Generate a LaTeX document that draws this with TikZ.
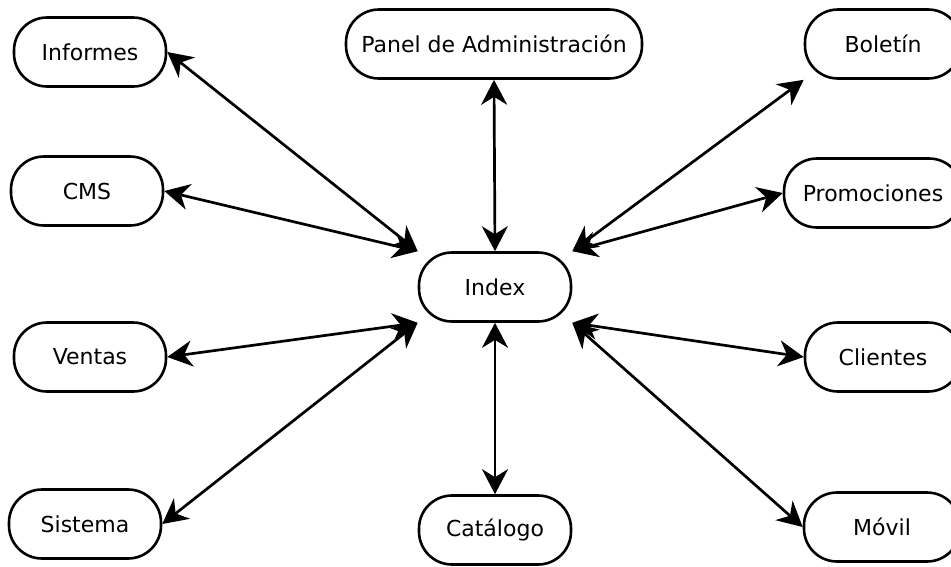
\documentclass[tikz,border=0pt]{standalone}
\usepackage{fontspec}
\setmainfont{DejaVu Sans}
\usetikzlibrary{arrows.meta}

\begin{document}
\begin{tikzpicture}[x=1pt, y=-1pt,
          box/.style={draw, line width=2.6pt, rounded corners=33pt, minimum width=152pt, minimum height=69pt, inner sep=0pt, align=center, font=\fontsize{22}{26}\selectfont},
          arrow/.style={{Stealth[length=25pt, width=26pt, inset=8pt]}-{Stealth[length=25pt, width=26pt, inset=8pt]}, line width=2.7pt}
        ]
          \useasboundingbox (0,0) rectangle (951,566);
          \clip (0,0) rectangle (951,566);
          \node[box] (index) at (495,287) {Index};
          \node[box] (informes) at (90,52) {Informes};
          \node[box] (cms) at (87,191) {CMS};
          \node[box] (ventas) at (90,357) {Ventas};
          \node[box] (sistema) at (85,524) {Sistema};
          \node[box,minimum width=296pt] (panel) at (494,44) {Panel de Administración};
          \node[box] (catalogo) at (495,530) {Catálogo};
          \node[box,minimum width=156pt] (boletin) at (883,44) {Boletín};
          \node[box,minimum width=178pt] (promo) at (873,193) {Promociones};
          \node[box,minimum width=156pt] (clientes) at (883,357) {Clientes};
          \node[box,minimum width=156pt] (movil) at (882,527) {Móvil};
          \draw[arrow] (informes.east) -- (index.north west);
          \draw[arrow] (cms.east) -- (index.north west);
          \draw[arrow] (ventas.east) -- (index.south west);
          \draw[arrow] (sistema.east) -- (index.south west);
          \draw[arrow] (panel.south) -- (index.north);
          \draw[arrow] (catalogo.north) -- (index.south);
          \draw[arrow] (boletin.south west) -- (index.north east);
          \draw[arrow] (promo.west) -- (index.north east);
          \draw[arrow] (clientes.west) -- (index.south east);
          \draw[arrow] (movil.west) -- (index.south east);
        \end{tikzpicture}
\end{document}
